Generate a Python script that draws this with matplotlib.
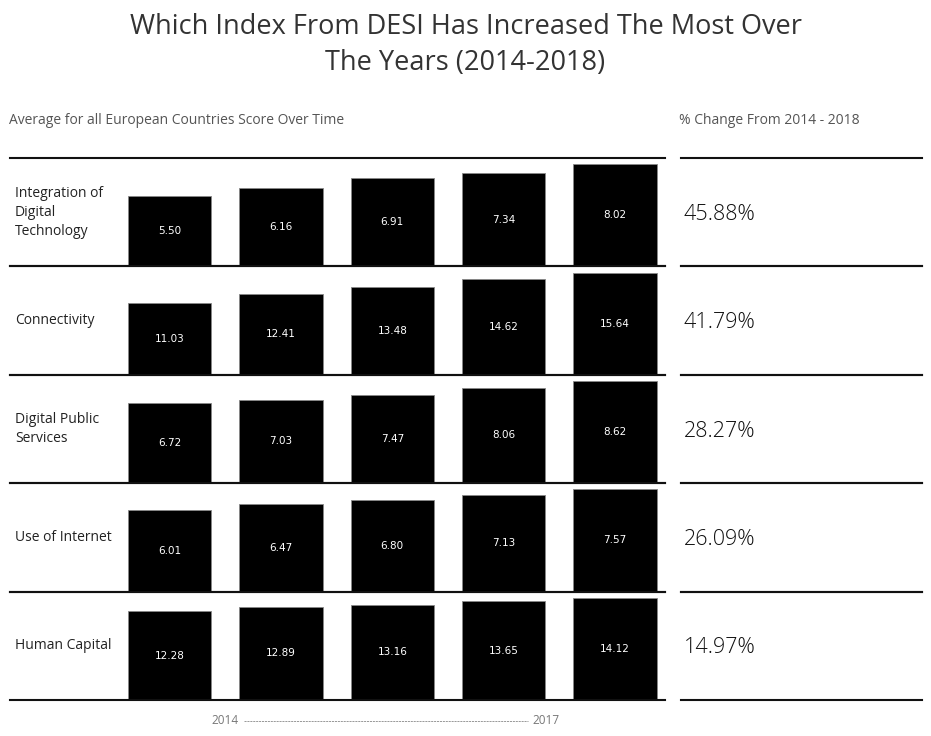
import matplotlib
matplotlib.use("Agg")
import matplotlib.pyplot as plt
from matplotlib.lines import Line2D

categories = ["Integration of\nDigital\nTechnology", "Connectivity", "Digital Public\nServices",
              "Use of Internet", "Human Capital"]
years = ["2014", "2015", "2016", "2017", "2018"]
values = [
    [5.50, 6.16, 6.91, 7.34, 8.02],
    [11.03, 12.41, 13.48, 14.62, 15.64],
    [6.72, 7.03, 7.47, 8.06, 8.62],
    [6.01, 6.47, 6.80, 7.13, 7.57],
    [12.28, 12.89, 13.16, 13.65, 14.12],
]
pct_change = ["45.88%", "41.79%", "28.27%", "26.09%", "14.97%"]

W, H = 931, 736
fig = plt.figure(figsize=(W / 100, H / 100), dpi=100)
plt.rcParams['font.family'] = ['Open Sans', 'DejaVu Sans']

def fx(px):
    return px / W

def fy(py):
    return 1 - py / H

fig.text(0.5, fy(27), "Which Index From DESI Has Increased The Most Over", ha='center', va='center',
         fontsize=19.5, color='#333333')
fig.text(0.5, fy(63), "The Years (2014-2018)", ha='center', va='center',
         fontsize=19.5, color='#333333')
fig.text(fx(9), fy(121), "Average for all European Countries Score Over Time", ha='left', va='center',
         fontsize=10, color='#555555')
fig.text(fx(679), fy(121), "% Change From 2014 - 2018", ha='left', va='center',
         fontsize=10, color='#555555')

row_top = 158
row_h = 108.4
step = 111.4
c0 = 169.5
left_px, right_px = 10, 665
x = list(range(len(years)))

for i, (cat, vals) in enumerate(zip(categories, values)):
    top = row_top + row_h * i
    bot = top + row_h
    ax = fig.add_axes([fx(left_px), fy(bot), fx(right_px - left_px), (bot - top) / H])
    ax.bar(x, vals, width=0.75, color='black', edgecolor='#888888', linewidth=0.6, zorder=2)
    ax.set_xlim((left_px - c0) / step, (right_px - c0) / step)
    ax.set_ylim(0, max(vals) * 1.06)
    for k, v in zip(x, vals):
        ax.text(k, v / 2, f"{v:.2f}", ha='center', va='center', color='white', fontsize=7.5,
                family='DejaVu Sans', zorder=3)
    ax.set_xticks([])
    ax.set_yticks([])
    for s in ['left', 'right']:
        ax.spines[s].set_visible(False)
    for s in ['top', 'bottom']:
        ax.spines[s].set_linewidth(1.5)
        ax.spines[s].set_color('#111111')
    ax.patch.set_alpha(0)
    ax.text(5 / (right_px - left_px), 0.5, cat, transform=ax.transAxes, ha='left', va='center',
            fontsize=10, color='#222222', linespacing=1.35)

    # right panel
    rax = fig.add_axes([fx(681), fy(bot), fx(922 - 681), (bot - top) / H])
    rax.set_xticks([])
    rax.set_yticks([])
    for s in ['left', 'right']:
        rax.spines[s].set_visible(False)
    for s in ['top', 'bottom']:
        rax.spines[s].set_linewidth(1.5)
        rax.spines[s].set_color('#111111')
    rax.patch.set_alpha(0)
    rax.text(3 / 241, 0.48, pct_change[i], transform=rax.transAxes, ha='left', va='center',
             fontsize=15.5, color='#111111', fontweight='light')

fig.text(fx(211), fy(721), years[0], ha='left', va='center', fontsize=8.5, color='#777777')
fig.text(fx(560), fy(721), years[3], ha='right', va='center', fontsize=8.5, color='#777777')
fig.add_artist(Line2D([fx(244), fx(528)], [fy(721), fy(721)], transform=fig.transFigure,
                      color='#888888', linewidth=0.6, dashes=(2.5, 1)))

fig.savefig("out.png", dpi=100, facecolor='white')
